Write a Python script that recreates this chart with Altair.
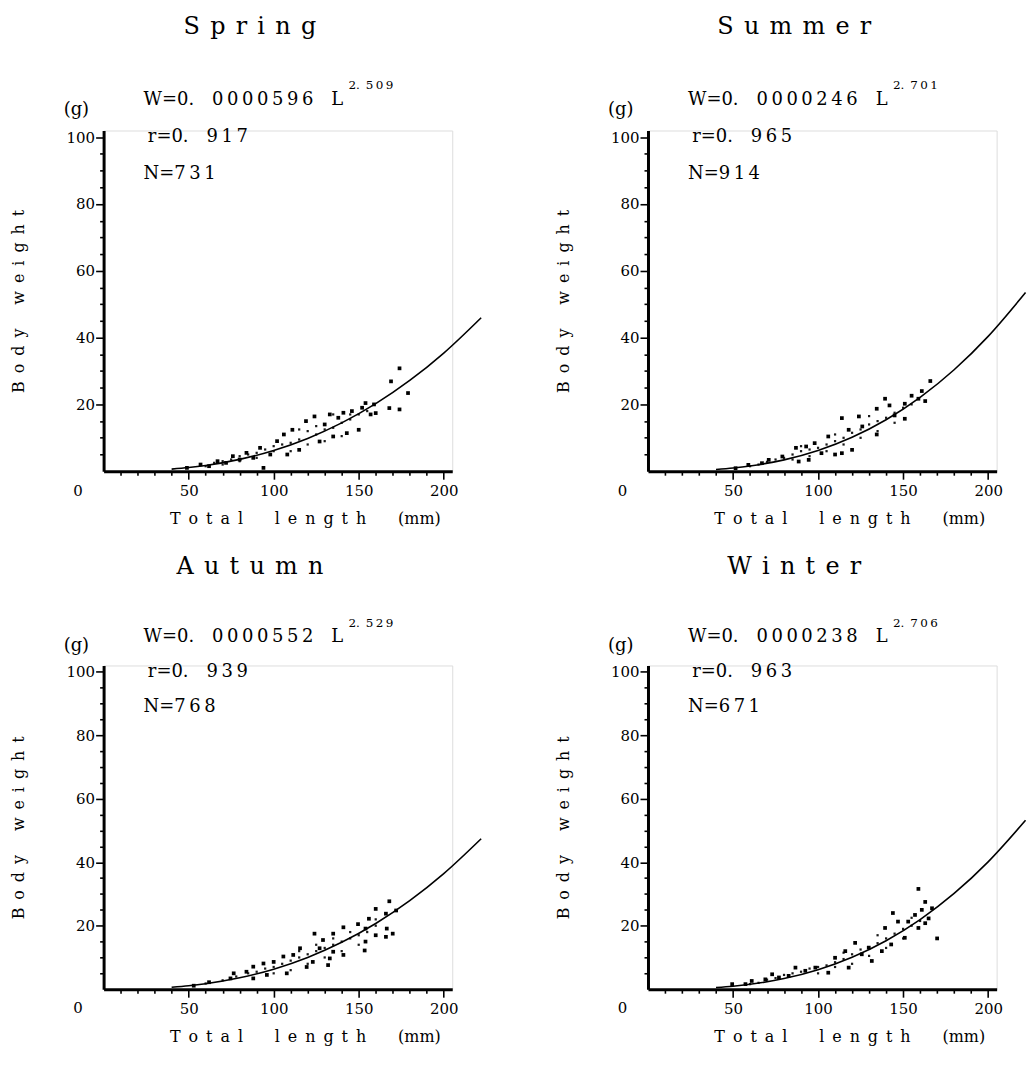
import altair as alt
import pandas as pd

FONT = "DejaVu Serif"

SEASONS = ["Spring", "Summer", "Autumn", "Winter"]
COEF = ["0000596", "0000246", "0000552", "0000238"]   # W = 0.COEF * L^EXPO
EXPO = ["509", "701", "529", "706"]                   # 2.xxx
R_VAL = ["917", "965", "939", "963"]
N_VAL = ["731", "914", "768", "671"]

# fitted curves
CURVE_L = [40, 50, 60, 80, 100, 120, 140, 160, 180, 200, 222]
CURVE_W = {
    "Spring": [0.62, 1.09, 1.72, 3.55, 6.22, 9.82, 14.46, 20.22, 27.17, 35.38, 45.96],
    "Summer": [0.52, 0.96, 1.56, 3.40, 6.21, 10.16, 15.40, 22.10, 30.38, 40.38, 53.5],
    "Autumn": [0.62, 1.09, 1.73, 3.59, 6.31, 10.01, 14.77, 20.71, 27.90, 36.42, 47.4],
    "Winter": [0.52, 0.94, 1.54, 3.36, 6.15, 10.07, 15.28, 21.93, 30.16, 40.11, 53.2],
}

# large dots (total length mm, body weight g)
BIG_L = {
    "Spring": [49, 57, 62, 67, 72, 76, 80, 84, 88, 92, 94, 98, 102, 106, 108, 111, 115, 119, 124, 127,
               130, 133, 135, 138, 141, 143, 146, 150, 152, 154, 157, 159, 160, 168, 169, 174, 174, 179],
    "Summer": [51.5, 59, 67, 71, 79, 87, 88.6, 93, 94.5, 98, 102, 106, 110, 114, 114, 118, 120, 124, 126,
               134.5, 134.5, 139.4, 142, 145, 151, 151, 155, 159, 161, 163, 166],
    "Autumn": [53, 62, 74.6, 76.5, 84, 88, 88, 94, 96, 100, 105.7, 107.7, 111.5, 115.5, 119.4, 123, 124,
               127, 129, 132, 133, 135, 135, 141, 141, 149.6, 153.5, 154, 154, 156, 160, 160, 166, 166,
               166.5, 168, 170, 172],
    "Winter": [49.5, 57.3, 61, 69, 73, 77, 82.7, 86.7, 92.5, 98.4, 106, 110, 116, 118, 121.8, 125.7,
               129.8, 131.6, 137.5, 139.4, 143, 144, 147, 151, 153, 157, 159, 159, 161, 163, 163, 165,
               167, 170],
}
BIG_W = {
    "Spring": [1, 2, 1.5, 3, 2.5, 4.5, 3.5, 5.5, 4, 7, 1, 5, 9, 11, 5, 12.4, 6.4, 15, 16.4, 8.9,
               14, 17, 10.4, 16, 17.5, 11.4, 18, 12.4, 19, 20.4, 17, 20, 17.4, 18.9, 26.9, 30.8, 18.5, 23.4],
    "Summer": [0.9, 1.9, 2.4, 3.4, 4.4, 7, 2.9, 7.4, 3.4, 8.4, 5.4, 10.4, 5, 5.4, 15.9, 12.4, 6.4, 16.4,
               13.4, 18.7, 11, 21.7, 19.7, 16.7, 15.7, 20.2, 22.6, 21.7, 24, 21, 27],
    "Autumn": [1.1, 2.2, 3.4, 5, 5.5, 7.1, 3.4, 8.1, 4.5, 8.6, 10.3, 5, 10.8, 12.9, 7, 8.6, 17.5,
               12.9, 15.5, 7.6, 9.7, 17.5, 11.8, 19.5, 10.8, 20.5, 12.2, 15, 19.1, 22.2, 25.3, 17, 23.8,
               16.5, 19.1, 27.7, 17.5, 24.8],
    "Winter": [1.6, 1.6, 2.6, 3.1, 4.7, 3.7, 4.2, 6.8, 5.8, 6.8, 5.2, 9.9, 12, 6.8, 14.6, 11, 13.1,
               8.9, 12, 19.3, 14.1, 24, 21.3, 16.2, 21.3, 23.4, 19.3, 31.6, 25, 27.5, 20.8, 22.3, 25.5, 16],
}

# fine dots forming the dense band
SMALL_L = {
    "Spring": [60, 65, 70, 75, 80, 85, 90, 95, 100, 105, 110, 115, 120, 125, 130, 135, 140, 145, 150,
               100, 110, 120, 130, 140, 90, 80, 70, 115, 125, 135, 145, 155],
    "Summer": [60, 65, 70, 75, 80, 85, 90, 95, 100, 105, 110, 115, 120, 125, 130, 135, 140, 145, 150,
               155, 85, 95, 105, 115, 125, 135, 145, 90, 110, 130],
    "Autumn": [60, 70, 78, 85, 90, 95, 100, 105, 110, 115, 120, 125, 130, 135, 140, 145, 150, 155, 160,
               100, 110, 120, 130, 140, 150, 115, 125, 135, 145, 160],
    "Winter": [60, 65, 70, 75, 80, 85, 90, 95, 100, 105, 110, 115, 120, 125, 130, 135, 140, 145, 150,
               155, 160, 100, 110, 120, 130, 140, 150, 115, 135, 155],
}
SMALL_W = {
    "Spring": [1.5, 2.5, 3, 3.5, 4.5, 5, 5.5, 6.5, 7.5, 8, 8.5, 9.5, 12, 11, 12.5, 13, 14.5, 15.5, 17,
               6, 6, 8, 9, 10.5, 4, 3, 2, 12.5, 13.5, 17, 17, 18],
    "Summer": [1.5, 2, 2.8, 3.5, 4, 5, 6, 6.5, 7, 8, 9, 10, 11.5, 12.5, 14, 15, 16, 17.5, 19, 20,
               3.5, 4.5, 6, 8, 10, 12, 14.5, 7.5, 11, 16.5],
    "Autumn": [1.8, 2.8, 4, 5, 5.5, 6.5, 7, 8, 9, 10, 11, 12, 13, 14, 15, 16, 17, 18, 20,
               5, 6, 8, 10, 12, 14, 12, 14, 16, 18, 22],
    "Winter": [1.6, 2, 3, 3.5, 4.5, 5, 5.5, 6.5, 7, 7.5, 8.5, 9.5, 11, 12.5, 13, 14.5, 16, 17.5, 19,
               20, 21.5, 5, 7, 8, 10.5, 13, 16, 11.5, 17, 22.5],
}

EN, THIN, TPS = "\u2002", "\u2009", "\u2004"


def spaced(word, gap):
    return gap.join(word)


Y_TITLE = spaced("Body", EN) + EN * 3 + spaced("weight", EN)
X_TITLE = spaced("Total", EN) + EN * 4 + spaced("length", EN) + EN * 4 + "(mm)"

X_TICKS = list(range(10, 201, 10))
Y_TICKS = list(range(5, 101, 5))


def panel(i, height):
    s = SEASONS[i]
    xs = alt.Scale(domain=[0, 205], nice=False, zero=False)
    ys = alt.Scale(domain=[0, 102], nice=False, zero=False)
    common = dict(
        domainColor="black", domainWidth=3, tickColor="black", tickWidth=1.6,
        labelFont=FONT, labelFontSize=15, labelColor="black", labelOverlap=False,
        labelFlush=False, grid=False, titleFont=FONT, titleFontSize=16,
        titleFontWeight="normal", titleColor="black", titleAlign="center",
        titleBaseline="middle", tickCount=200, format="d",
    )
    xaxis = alt.Axis(
        values=X_TICKS,
        labelExpr="datum.value % 50 === 0 ? datum.label : ''",
        tickSize={"condition": {"test": "datum.value % 50 === 0", "value": 8}, "value": 4},
        labelPadding=4, titleX=202, titleY=47, **common,
    )
    yaxis = alt.Axis(
        values=Y_TICKS,
        labelExpr="datum.value % 20 === 0 ? datum.label : ''",
        tickSize={"condition": {"test": "datum.value % 20 === 0", "value": 8}, "value": 4},
        labelPadding=1, titleX=-85, titleY=height / 2, titleAngle=270, **common,
    )
    big = pd.DataFrame({"L": BIG_L[s], "W": BIG_W[s]})
    small = pd.DataFrame({"L": SMALL_L[s], "W": SMALL_W[s]})
    curve = pd.DataFrame({"L": CURVE_L, "W": CURVE_W[s]})

    X = alt.X("L:Q", scale=xs, axis=xaxis, title=X_TITLE)
    Y = alt.Y("W:Q", scale=ys, axis=yaxis, title=Y_TITLE)

    layers = [
        alt.Chart(big).mark_square(size=14, color="black", opacity=1).encode(x=X, y=Y),
        alt.Chart(small).mark_square(size=5, color="black", opacity=0.9).encode(x="L:Q", y="W:Q"),
        alt.Chart(curve).mark_line(color="black", strokeWidth=1.6, interpolate="monotone")
        .encode(x="L:Q", y="W:Q"),
    ]

    texts = [
        # (L, W, text, size, align)
        (86, 133, spaced(s, TPS + "\u200a"), 24, "center"),
        (23.5, 111, "W=0." + EN * 2 + THIN.join(COEF[i]) + EN * 2 + "L", 18, "left"),
        (144, 115.5, "2." + EN + THIN.join(EXPO[i]), 12, "left"),
        (26, 100, "r=0." + EN * 2 + THIN.join(R_VAL[i]), 18, "left"),
        (23.5, 89, "N=" + THIN.join(N_VAL[i]), 18, "left"),
        (-16, 108, "(g)", 18, "center"),
        (-15, -6, "0", 15, "center"),
    ]
    for (lx, wy, t, fs, al) in texts:
        df = pd.DataFrame({"L": [lx], "W": [wy], "t": [t]})
        layers.append(
            alt.Chart(df).mark_text(font=FONT, fontSize=fs, align=al, baseline="middle", color="black")
            .encode(x="L:Q", y="W:Q", text="t:N")
        )
    return alt.layer(*layers).properties(width=350, height=height)


chart = alt.concat(
    panel(0, 342), panel(1, 342), panel(2, 325), panel(3, 325),
    columns=2, spacing={"row": 195, "column": 196.5}, bounds="flush",
).properties(
    padding={"left": 10, "top": 12, "right": 2, "bottom": 4}
).configure_view(strokeWidth=0, stroke="transparent").configure(background="white")

chart.save("out.html", embed_options={"renderer": "svg", "actions": False})
